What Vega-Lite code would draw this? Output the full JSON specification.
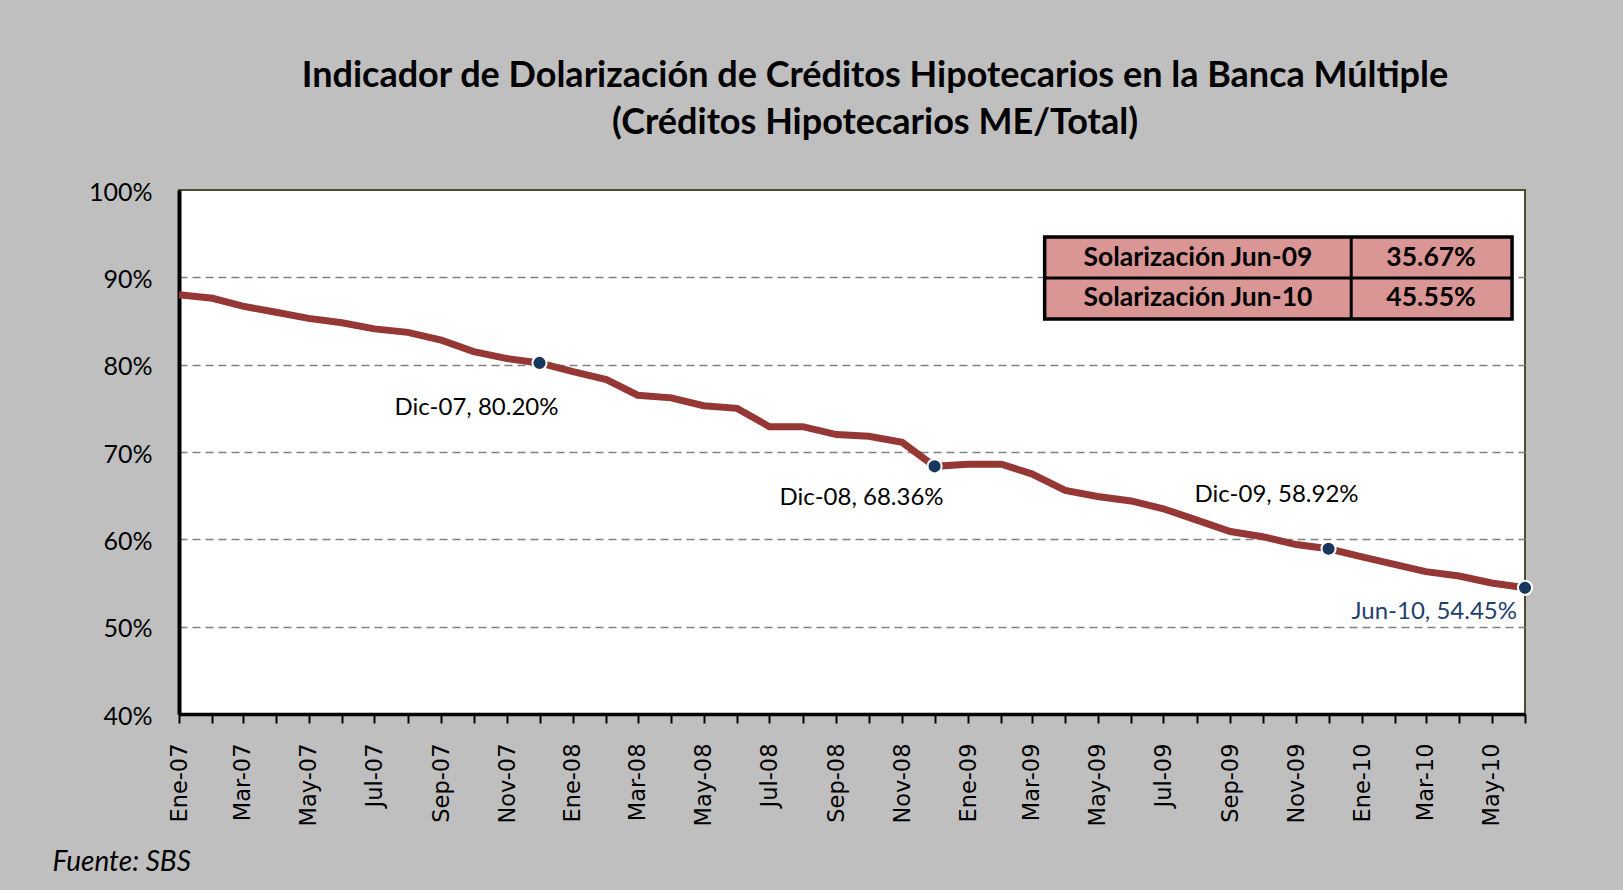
{
  "$schema": "https://vega.github.io/schema/vega-lite/v6.json",
  "width": 1346,
  "height": 524,
  "autosize": {"type": "none"},
  "padding": {"left": 179, "top": 190, "right": 98, "bottom": 176},
  "background": "#bfbfbf",
  "title": {
    "text": ["Indicador de Dolarización de Créditos Hipotecarios en la Banca Múltiple", "(Créditos Hipotecarios ME/Total)"],
    "font": "Lato", "fontSize": 36, "fontWeight": "bold", "color": "black",
    "lineHeight": 47, "anchor": "middle", "frame": "group", "dx": 23, "offset": 2, "baseline": "bottom"
  },
  "config": {
    "view": {"fill": "white", "stroke": "#4f4a30", "strokeWidth": 2}
  },
  "resolve": {"axis": {"x": "independent", "y": "independent"}},
  "datasets": {
    "serie": [
      {"mes": "2007-01-01", "valor": 88.0},
      {"mes": "2007-02-01", "valor": 87.6},
      {"mes": "2007-03-01", "valor": 86.7},
      {"mes": "2007-04-01", "valor": 86.0},
      {"mes": "2007-05-01", "valor": 85.3},
      {"mes": "2007-06-01", "valor": 84.8},
      {"mes": "2007-07-01", "valor": 84.1},
      {"mes": "2007-08-01", "valor": 83.7},
      {"mes": "2007-09-01", "valor": 82.8},
      {"mes": "2007-10-01", "valor": 81.5},
      {"mes": "2007-11-01", "valor": 80.7},
      {"mes": "2007-12-01", "valor": 80.2, "etiqueta": "Dic-07, 80.20%"},
      {"mes": "2008-01-01", "valor": 79.2},
      {"mes": "2008-02-01", "valor": 78.3},
      {"mes": "2008-03-01", "valor": 76.5},
      {"mes": "2008-04-01", "valor": 76.2},
      {"mes": "2008-05-01", "valor": 75.3},
      {"mes": "2008-06-01", "valor": 75.0},
      {"mes": "2008-07-01", "valor": 72.9},
      {"mes": "2008-08-01", "valor": 72.9},
      {"mes": "2008-09-01", "valor": 72.0},
      {"mes": "2008-10-01", "valor": 71.8},
      {"mes": "2008-11-01", "valor": 71.1},
      {"mes": "2008-12-01", "valor": 68.36, "etiqueta": "Dic-08, 68.36%"},
      {"mes": "2009-01-01", "valor": 68.6},
      {"mes": "2009-02-01", "valor": 68.6},
      {"mes": "2009-03-01", "valor": 67.5},
      {"mes": "2009-04-01", "valor": 65.6},
      {"mes": "2009-05-01", "valor": 64.9},
      {"mes": "2009-06-01", "valor": 64.4},
      {"mes": "2009-07-01", "valor": 63.5},
      {"mes": "2009-08-01", "valor": 62.2},
      {"mes": "2009-09-01", "valor": 60.9},
      {"mes": "2009-10-01", "valor": 60.3},
      {"mes": "2009-11-01", "valor": 59.4},
      {"mes": "2009-12-01", "valor": 58.92, "etiqueta": "Dic-09, 58.92%"},
      {"mes": "2010-01-01", "valor": 58.0},
      {"mes": "2010-02-01", "valor": 57.1},
      {"mes": "2010-03-01", "valor": 56.3},
      {"mes": "2010-04-01", "valor": 55.8},
      {"mes": "2010-05-01", "valor": 55.0},
      {"mes": "2010-06-01", "valor": 54.45, "etiqueta": "Jun-10, 54.45%"}
    ],
    "tabla": [
      {"concepto": "Solarización Jun-09", "porcentaje": "35.67%"},
      {"concepto": "Solarización Jun-10", "porcentaje": "45.55%"}
    ]
  },
  "layer": [
    {
      "data": {"name": "serie"},
      "mark": {"type": "line", "color": "#953735", "strokeWidth": 7},
      "encoding": {
        "x": {
          "field": "mes", "type": "temporal",
          "scale": {"type": "utc", "nice": false, "domain": [{"year": 2007, "month": 1, "date": 1, "utc": true}, {"year": 2010, "month": 6, "date": 1, "utc": true}]},
          "axis": {
            "tickCount": {"interval": "month", "step": 1},
            "labelExpr": "utcmonth(datum.value) % 2 == 0 ? ['Ene','Feb','Mar','Abr','May','Jun','Jul','Ago','Sep','Oct','Nov','Dic'][utcmonth(datum.value)] + '-' + utcFormat(datum.value, '%y') : ''",
            "labelAngle": -90, "labelAlign": "right", "labelBaseline": "middle",
            "labelFont": "DejaVu Sans", "labelFontSize": 22.5, "labelColor": "black",
            "labelOverlap": false, "labelFlush": false, "labelPadding": 20,
            "tickSize": 9, "tickWidth": 2, "tickColor": "black",
            "domainColor": "black", "domainWidth": 3.5,
            "grid": false,
            "title": "Fuente: SBS", "titleX": -127, "titleY": 148, "titleAlign": "left", "titleBaseline": "middle",
            "titleFont": "Lato", "titleFontStyle": "italic", "titleFontWeight": "normal", "titleFontSize": 28, "titleColor": "black", "titleAngle": 0
          }
        },
        "y": {
          "field": "valor", "type": "quantitative",
          "scale": {"domain": [40, 100], "nice": false, "zero": false},
          "axis": {
            "values": [40, 50, 60, 70, 80, 90, 100],
            "labelExpr": "datum.value + '%'",
            "labelFont": "Lato", "labelFontSize": 25, "labelColor": "black", "labelPadding": 27, "labelOffset": 2,
            "ticks": false, "tickSize": 0,
            "domainColor": "black", "domainWidth": 4,
            "grid": true, "gridColor": "#808080", "gridDash": [8, 5], "gridWidth": 1.5,
            "gridOpacity": {"condition": {"test": "datum.value == 40 || datum.value == 100", "value": 0}, "value": 1},
            "title": null
          }
        }
      }
    },
    {
      "data": {"name": "serie"},
      "transform": [{"filter": "isValid(datum.etiqueta)"}],
      "mark": {"type": "point", "filled": true, "color": "#17375e", "stroke": "white", "strokeWidth": 2, "size": 200, "opacity": 1},
      "encoding": {
        "x": {"field": "mes", "type": "temporal", "axis": null},
        "y": {"field": "valor", "type": "quantitative", "axis": null}
      }
    },
    {
      "data": {"name": "serie"},
      "transform": [{"filter": "datum.etiqueta == 'Dic-07, 80.20%'"}],
      "mark": {"type": "text", "align": "right", "baseline": "middle", "dx": 19, "dy": 45, "font": "Lato", "fontSize": 24, "color": "black"},
      "encoding": {
        "x": {"field": "mes", "type": "temporal", "axis": null},
        "y": {"field": "valor", "type": "quantitative", "axis": null},
        "text": {"field": "etiqueta"}
      }
    },
    {
      "data": {"name": "serie"},
      "transform": [{"filter": "datum.etiqueta == 'Dic-08, 68.36%'"}],
      "mark": {"type": "text", "align": "right", "baseline": "middle", "dx": 9, "dy": 32, "font": "Lato", "fontSize": 24, "color": "black"},
      "encoding": {
        "x": {"field": "mes", "type": "temporal", "axis": null},
        "y": {"field": "valor", "type": "quantitative", "axis": null},
        "text": {"field": "etiqueta"}
      }
    },
    {
      "data": {"name": "serie"},
      "transform": [{"filter": "datum.etiqueta == 'Dic-09, 58.92%'"}],
      "mark": {"type": "text", "align": "right", "baseline": "middle", "dx": 30, "dy": -54, "font": "Lato", "fontSize": 24, "color": "black"},
      "encoding": {
        "x": {"field": "mes", "type": "temporal", "axis": null},
        "y": {"field": "valor", "type": "quantitative", "axis": null},
        "text": {"field": "etiqueta"}
      }
    },
    {
      "data": {"name": "serie"},
      "transform": [{"filter": "datum.etiqueta == 'Jun-10, 54.45%'"}],
      "mark": {"type": "text", "align": "right", "baseline": "middle", "dx": -8, "dy": 24, "font": "Lato", "fontSize": 24, "color": "#1f3f6e"},
      "encoding": {
        "x": {"field": "mes", "type": "temporal", "axis": null},
        "y": {"field": "valor", "type": "quantitative", "axis": null},
        "text": {"field": "etiqueta"}
      }
    },
    {
      "data": {"values": [{}]},
      "mark": {"type": "rect", "fill": "#d99694", "stroke": "black", "strokeWidth": 3.5},
      "encoding": {
        "x": {"datum": {"year": 2009, "month": 3, "date": 13, "utc": true}, "type": "temporal", "axis": null},
        "x2": {"datum": {"year": 2010, "month": 5, "date": 20, "utc": true}},
        "y": {"datum": 94.62, "type": "quantitative", "axis": null},
        "y2": {"datum": 85.23}
      }
    },
    {
      "data": {"values": [{}]},
      "mark": {"type": "rule", "color": "black", "strokeWidth": 3},
      "encoding": {
        "x": {"datum": {"year": 2009, "month": 12, "date": 22, "utc": true}, "type": "temporal", "axis": null},
        "y": {"datum": 94.62, "type": "quantitative", "axis": null},
        "y2": {"datum": 85.23}
      }
    },
    {
      "data": {"values": [{}]},
      "mark": {"type": "rule", "color": "black", "strokeWidth": 3},
      "encoding": {
        "x": {"datum": {"year": 2009, "month": 3, "date": 13, "utc": true}, "type": "temporal", "axis": null},
        "x2": {"datum": {"year": 2010, "month": 5, "date": 20, "utc": true}},
        "y": {"datum": 89.93, "type": "quantitative", "axis": null}
      }
    },
    {
      "data": {"name": "tabla"},
      "transform": [{"filter": "datum.concepto == 'Solarización Jun-09'"}],
      "mark": {"type": "text", "align": "center", "baseline": "middle", "font": "Lato", "fontSize": 26.5, "fontWeight": "bold", "color": "black"},
      "encoding": {
        "x": {"datum": {"year": 2009, "month": 8, "date": 2, "utc": true}, "type": "temporal", "axis": null},
        "y": {"datum": 92.27, "type": "quantitative", "axis": null},
        "text": {"field": "concepto"}
      }
    },
    {
      "data": {"name": "tabla"},
      "transform": [{"filter": "datum.concepto == 'Solarización Jun-09'"}],
      "mark": {"type": "text", "align": "center", "baseline": "middle", "font": "Lato", "fontSize": 26.5, "fontWeight": "bold", "color": "black"},
      "encoding": {
        "x": {"datum": {"year": 2010, "month": 3, "date": 6, "utc": true}, "type": "temporal", "axis": null},
        "y": {"datum": 92.27, "type": "quantitative", "axis": null},
        "text": {"field": "porcentaje"}
      }
    },
    {
      "data": {"name": "tabla"},
      "transform": [{"filter": "datum.concepto == 'Solarización Jun-10'"}],
      "mark": {"type": "text", "align": "center", "baseline": "middle", "font": "Lato", "fontSize": 26.5, "fontWeight": "bold", "color": "black"},
      "encoding": {
        "x": {"datum": {"year": 2009, "month": 8, "date": 2, "utc": true}, "type": "temporal", "axis": null},
        "y": {"datum": 87.58, "type": "quantitative", "axis": null},
        "text": {"field": "concepto"}
      }
    },
    {
      "data": {"name": "tabla"},
      "transform": [{"filter": "datum.concepto == 'Solarización Jun-10'"}],
      "mark": {"type": "text", "align": "center", "baseline": "middle", "font": "Lato", "fontSize": 26.5, "fontWeight": "bold", "color": "black"},
      "encoding": {
        "x": {"datum": {"year": 2010, "month": 3, "date": 6, "utc": true}, "type": "temporal", "axis": null},
        "y": {"datum": 87.58, "type": "quantitative", "axis": null},
        "text": {"field": "porcentaje"}
      }
    }
  ]
}
